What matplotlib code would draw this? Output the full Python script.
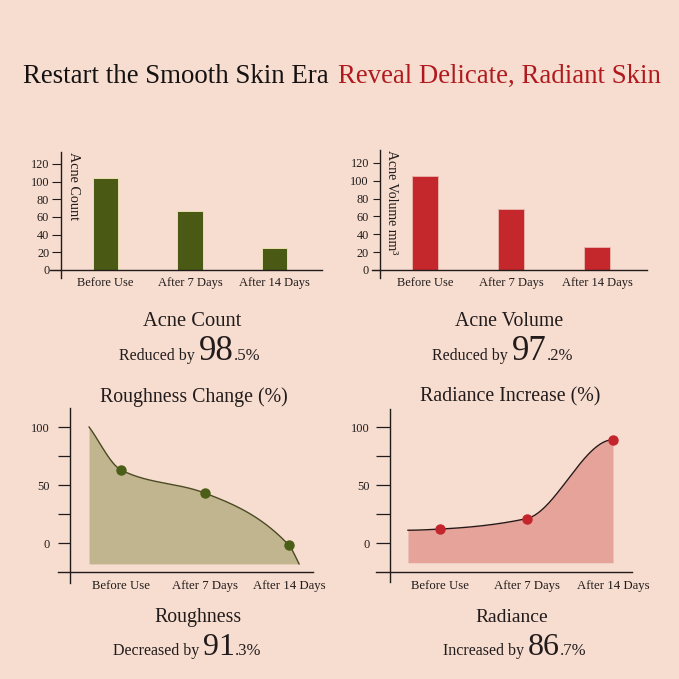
import numpy as np
import matplotlib.pyplot as plt

W = H = 679
BG = '#f6ddd0'
INK = '#221b1b'
OLIVE = '#4a5a14'
RED = '#c4282d'

plt.rcParams['font.family'] = ['Liberation Serif', 'DejaVu Serif']

# ---- data ----
days = ['Before Use', 'After 7 Days', 'After 14 Days']
acne_count = [104, 67, 25]
acne_volume = [105, 68, 26]
count_ticks = [0, 20, 40, 60, 80, 100, 120]

roughness = [63, 43, -2]
rough_start, rough_end = 100, -18   # where the shaded curve begins / ends
radiance = [12, 21, 89]
radiance_start = 11
pct_ticks = [0, 50, 100]
pct_minor = [25, 75]


fig = plt.figure(figsize=(W / 100, H / 100), dpi=100, facecolor=BG)


def add_ax(left, top, right, bottom, x0, dx, y0, dy, yaxis_px, xaxis_px):
    # axes box in pixels; category 0 sits at x0, value 0 at y0
    ax = fig.add_axes([left / W, 1 - bottom / H, (right - left) / W, (bottom - top) / H])
    ax.set_facecolor('none')
    ax.set_xlim((left - x0) / dx, (right - x0) / dx)
    ax.set_ylim((y0 - bottom) / dy, (y0 - top) / dy)
    for s in ['top', 'right']:
        ax.spines[s].set_visible(False)
    ax.spines['left'].set_position(('data', (yaxis_px - x0) / dx))
    ax.spines['bottom'].set_position(('data', (y0 - xaxis_px) / dy))
    for s in ['left', 'bottom']:
        ax.spines[s].set_color(INK)
        ax.spines[s].set_linewidth(1.0)
    ax.set_xticks(range(len(days)), days)
    ax.tick_params(axis='x', length=0, colors=INK)
    ax.tick_params(axis='y', which='both', direction='out', colors=INK)
    return ax


def smooth(xs, ys, flat_ends=False, n=120):
    # monotone cubic through the points
    xs = np.asarray(xs, float)
    ys = np.asarray(ys, float)
    h = np.diff(xs)
    d = np.diff(ys) / h
    m = np.zeros_like(ys)
    for i in range(1, len(xs) - 1):
        if d[i - 1] * d[i] > 0:
            w1 = 2 * h[i] + h[i - 1]
            w2 = h[i] + 2 * h[i - 1]
            m[i] = (w1 + w2) / (w1 / d[i - 1] + w2 / d[i])
    if not flat_ends:
        m[0], m[-1] = d[0], d[-1]
    px, py = [], []
    t = np.linspace(0, 1, n)
    for i in range(len(h)):
        h00 = 2 * t**3 - 3 * t**2 + 1
        h10 = t**3 - 2 * t**2 + t
        h01 = -2 * t**3 + 3 * t**2
        h11 = t**3 - t**2
        px.append(xs[i] + t * h[i])
        py.append(h00 * ys[i] + h10 * h[i] * m[i] + h01 * ys[i + 1] + h11 * h[i] * m[i + 1])
    return np.concatenate(px), np.concatenate(py)


def rich_line(cx, base_y, parts):
    # parts: (text, size, color, gap after in px); centred on cx
    r = fig.canvas.get_renderer()
    txts = [fig.text(0, 1 - base_y / H, s, fontsize=sz, color=c, va='baseline', ha='left')
            for s, sz, c, g in parts]
    widths = [t.get_window_extent(r).width + p[3] for t, p in zip(txts, parts)]
    x = cx - sum(widths) / 2
    for t, w in zip(txts, widths):
        t.set_x(x / W)
        x += w


# ---- title ----
rich_line(342, 83, [('Restart the Smooth Skin Era', 19.4, '#151111', 10),
                    ('Reveal Delicate, Radiant Skin', 19.4, '#b01a1e', 0)])

# ---- acne count bars ----
ax1 = add_ax(50, 152, 322, 278, 105.5, 84.5, 270, 0.885, 61, 270)
ax1.bar(range(3), acne_count, width=0.3, color=OLIVE, edgecolor='#e9dfae', linewidth=0.7)
ax1.set_yticks(count_ticks)
ax1.tick_params(axis='y', length=6.5, width=0.8, pad=2, labelsize=8.8)
ax1.tick_params(axis='x', pad=5, labelsize=9)
fig.text(73.5 / W, 1 - 152 / H, 'Acne Count', rotation=270, ha='center', va='top',
         fontsize=10.2, color=INK)

# ---- acne volume bars ----
ax2 = add_ax(372, 150, 647, 278, 425, 86, 270, 0.892, 380, 270)
ax2.bar(range(3), acne_volume, width=0.3, color=RED, edgecolor='#e9b0a8', linewidth=0.7)
ax2.set_yticks(count_ticks)
ax2.tick_params(axis='y', length=5, width=0.8, pad=3, labelsize=8.8)
ax2.tick_params(axis='x', pad=5, labelsize=9)
fig.text(392 / W, 1 - 150 / H, 'Acne Volume mm³', rotation=270, ha='center', va='top',
         fontsize=10, color=INK)

rich_line(192, 326, [('Acne Count', 14.8, INK, 0)])
rich_line(190, 360, [('Reduced by', 11.5, INK, 4), ('98', 25, INK, 0), ('.5%', 12, INK, 0)])
rich_line(509, 326, [('Acne Volume', 14.3, INK, 0)])
rich_line(503, 360, [('Reduced by', 11.5, INK, 4), ('97', 25, INK, 0), ('.2%', 12, INK, 0)])

# ---- roughness curve ----
ax3 = add_ax(58, 408, 313, 583, 121, 84, 543, 1.16, 70, 572)
cx, cy = smooth([-0.38, 0, 1, 2, 2.12], [rough_start] + roughness + [rough_end])
ax3.fill_between(cx, cy, rough_end, color='#c0b58e', lw=0)
ax3.plot(cx, cy, color='#4b4a22', lw=1)
ax3.plot(range(3), roughness, 'o', color='#4b5e17', ms=6.5, zorder=3)
ax3.set_yticks(pct_ticks)
ax3.set_yticks(pct_minor, minor=True)
ax3.tick_params(axis='y', which='both', length=8.6, width=0.9, pad=6, labelsize=9)
ax3.tick_params(axis='x', pad=6, labelsize=9.2)
fig.text(194 / W, 1 - 397 / H, 'Roughness Change (%)', ha='center', va='center',
         fontsize=14.3, color=INK)

# ---- radiance curve ----
ax4 = add_ax(376, 409, 632, 582, 440, 86.5, 543, 1.16, 390, 572)
rx, ry = smooth([-0.37, 0, 1, 2], [radiance_start] + radiance, flat_ends=True)
base = -17
ax4.fill_between(rx, ry, base, color='#e6a39a', lw=0)
ax4.plot(rx, ry, color='#2a1818', lw=1)
ax4.plot(range(3), radiance, 'o', color='#c4242b', ms=6.5, zorder=3)
ax4.set_yticks(pct_ticks)
ax4.set_yticks(pct_minor, minor=True)
ax4.tick_params(axis='y', which='both', length=10, width=0.9, pad=4.3, labelsize=9)
ax4.tick_params(axis='x', pad=6, labelsize=9.2)
fig.text(510 / W, 1 - 397 / H, 'Radiance Increase (%)', ha='center', va='center',
         fontsize=14.3, color=INK)

rich_line(198, 622, [('Roughness', 14.3, INK, 0)])
rich_line(187, 655, [('Decreased by', 11.5, INK, 4), ('91', 23, INK, 0), ('.3%', 12, INK, 0)])
rich_line(512, 622, [('Radiance', 14, INK, 0)])
rich_line(515, 655, [('Increased by', 11.5, INK, 4), ('86', 23, INK, 0), ('.7%', 12, INK, 0)])

fig.savefig('out.png', dpi=100, facecolor=BG)
